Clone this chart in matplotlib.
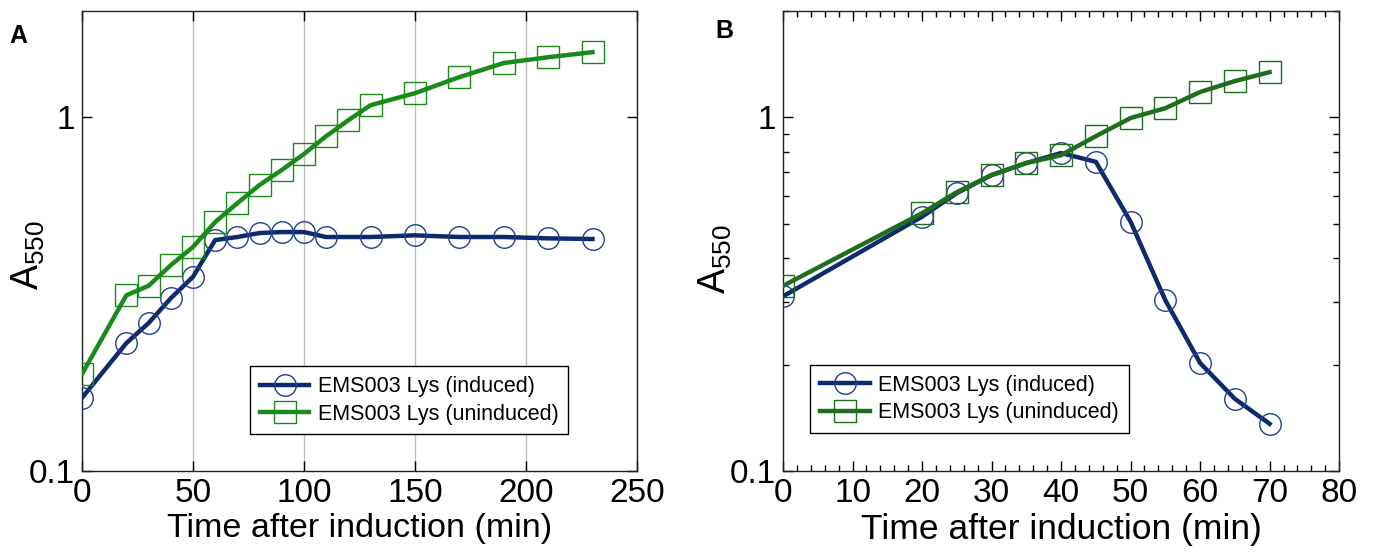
import numpy as np
import matplotlib
matplotlib.use("Agg")
import matplotlib.pyplot as plt
from matplotlib.ticker import FixedLocator, MultipleLocator, LogLocator, NullFormatter, NullLocator

plt.rcParams["font.family"] = ["Liberation Sans", "DejaVu Sans"]
plt.rcParams["mathtext.default"] = "regular"

# panel A data
a_time_ind = [0, 20, 30, 40, 50, 60, 70, 80, 90, 100, 110, 130, 150, 170, 190, 210, 230]
a_induced = [0.161, 0.230, 0.262, 0.308, 0.354, 0.450, 0.459, 0.471, 0.474, 0.474,
             0.459, 0.459, 0.464, 0.459, 0.459, 0.455, 0.453]
a_time_un = [0, 20, 30, 40, 50, 60, 70, 80, 90, 100, 110, 120, 130, 150, 170, 190, 210, 230]
a_uninduced = [0.188, 0.314, 0.334, 0.382, 0.430, 0.506, 0.572, 0.644, 0.710, 0.788,
               0.885, 0.982, 1.083, 1.171, 1.300, 1.425, 1.480, 1.530]

# panel B data
b_time = [0, 20, 25, 30, 35, 40, 45, 50, 55, 60, 65, 70]
b_induced = [0.312, 0.524, 0.611, 0.687, 0.743, 0.793, 0.749, 0.507, 0.304, 0.202, 0.160, 0.136]
b_uninduced = [0.334, 0.536, 0.615, 0.687, 0.743, 0.782, 0.885, 0.996, 1.062, 1.180, 1.267, 1.343]

labels = ["EMS003 Lys (induced)", "EMS003 Lys (uninduced)"]
navy = "#0c2a6c"
green_a = "#1a8a1a"
green_b = "#1e6e1e"

fig = plt.figure(figsize=(13.75, 5.58), dpi=100)
axA = fig.add_axes([0.0596, 0.1559, 0.4036, 0.8244])
axB = fig.add_axes([0.5695, 0.1559, 0.4044, 0.8244])

def draw(ax, x1, y1, x2, y2, green):
    ax.plot(x1, y1, color=navy, lw=3.2, marker="o", ms=15.5, mfc="none",
            mec="#1f3f8f", mew=1.0, label=labels[0], zorder=3)
    ax.plot(x2, y2, color=green, lw=3.2, marker="s", ms=15.5, mfc="none",
            mec=green, mew=1.0, label=labels[1], zorder=4)
    ax.set_yscale("log")
    ax.set_ylim(0.1, 2.0)
    ax.yaxis.set_major_locator(FixedLocator([0.1, 1]))
    ax.set_yticklabels(["0.1", "1"])
    ax.yaxis.set_minor_formatter(NullFormatter())
    ax.tick_params(which="both", direction="in", top=True, right=True, labelsize=24)
    ax.tick_params(which="major", length=7, width=1.0, pad=5)
    ax.tick_params(which="minor", length=4, width=1.0)
    for s in ax.spines.values():
        s.set_linewidth(1.0)
        s.set_color("#222222")
    ax.set_ylabel("A$_{550}$", fontsize=27)
    leg = ax.legend(fontsize=15.5, frameon=True, fancybox=False, edgecolor="black",
                    framealpha=1, handlelength=2.3, handletextpad=0.4,
                    borderpad=0.45, labelspacing=0.3, borderaxespad=0)
    leg.get_frame().set_linewidth(1.0)
    return leg

legA = draw(axA, a_time_ind, a_induced, a_time_un, a_uninduced, green_a)
axA.set_xlim(0, 250)
axA.xaxis.set_major_locator(MultipleLocator(50))
axA.yaxis.set_minor_locator(NullLocator())
axA.grid(axis="x", color="#bdbdbd", lw=1.0)
axA.set_axisbelow(True)
axA.set_xlabel("Time after induction (min)", fontsize=24.5, labelpad=3)
axA.yaxis.set_label_coords(-0.063, 0.47)
legA.set_bbox_to_anchor((0.303, 0.08), transform=axA.transAxes)
legA._loc = 3

legB = draw(axB, b_time, b_induced, b_time, b_uninduced, green_b)
axB.set_xlim(0, 80)
axB.xaxis.set_major_locator(MultipleLocator(10))
axB.xaxis.set_minor_locator(MultipleLocator(2))
axB.yaxis.set_minor_locator(LogLocator(base=10, subs=np.arange(2, 10)))
axB.yaxis.set_minor_formatter(NullFormatter())
axB.set_xlabel("Time after induction (min)", fontsize=25.5, labelpad=3)
axB.yaxis.set_label_coords(-0.088, 0.46)
legB.set_bbox_to_anchor((0.049, 0.083), transform=axB.transAxes)
legB._loc = 3

fig.text(0.007, 0.935, "A", fontsize=18, fontweight="bold", va="center")
fig.text(0.520, 0.945, "B", fontsize=18, fontweight="bold", va="center")

fig.savefig("out.png", dpi=100)
